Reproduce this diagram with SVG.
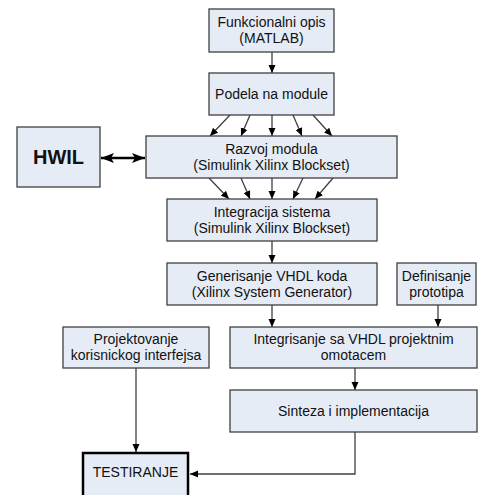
<svg xmlns="http://www.w3.org/2000/svg" width="478" height="495" viewBox="0 0 478 495">
<style>
.box{fill:#E6ECF6;stroke:#404040;stroke-width:1.3}
.t{font-family:"Liberation Sans",Arial,sans-serif;font-size:14px;fill:#111;text-anchor:middle}
.c{fill:none;stroke:#404040;stroke-width:1.3}
</style>
<defs>
<marker id="ah" markerUnits="userSpaceOnUse" markerWidth="9" markerHeight="8" refX="8" refY="4" orient="auto">
<path d="M0,0.5 L8,4 L0,7.5 z" fill="#000"/>
</marker>
<marker id="big" markerUnits="userSpaceOnUse" markerWidth="14" markerHeight="12" refX="13" refY="6" orient="auto">
<path d="M0,1 L13,6 L0,11 L3,6 z" fill="#000"/>
</marker>
<marker id="bigs" markerUnits="userSpaceOnUse" markerWidth="14" markerHeight="12" refX="1" refY="6" orient="auto">
<path d="M14,1 L1,6 L14,11 L11,6 z" fill="#000"/>
</marker>
</defs>
<rect width="478" height="495" fill="#fff"/>
<g id="connectors">
<line class="c" x1="272" y1="52" x2="272" y2="73" marker-end="url(#ah)"/>
<line class="c" x1="230" y1="115" x2="210" y2="136" marker-end="url(#ah)"/>
<line class="c" x1="250" y1="115" x2="241" y2="136" marker-end="url(#ah)"/>
<line class="c" x1="272" y1="115" x2="272" y2="136" marker-end="url(#ah)"/>
<line class="c" x1="293" y1="115" x2="302" y2="136" marker-end="url(#ah)"/>
<line class="c" x1="313" y1="115" x2="332" y2="136" marker-end="url(#ah)"/>
<line class="c" x1="209" y1="178" x2="229" y2="199" marker-end="url(#ah)"/>
<line class="c" x1="241" y1="178" x2="250" y2="199" marker-end="url(#ah)"/>
<line class="c" x1="272" y1="178" x2="272" y2="199" marker-end="url(#ah)"/>
<line class="c" x1="303" y1="178" x2="293" y2="199" marker-end="url(#ah)"/>
<line class="c" x1="333" y1="178" x2="315" y2="199" marker-end="url(#ah)"/>
<line x1="101" y1="158" x2="145" y2="158" stroke="#000" stroke-width="2.5" marker-start="url(#bigs)" marker-end="url(#big)"/>
<line class="c" x1="272" y1="241" x2="272" y2="263" marker-end="url(#ah)"/>
<line class="c" x1="272" y1="305" x2="272" y2="327" marker-end="url(#ah)"/>
<line class="c" x1="438" y1="305" x2="438" y2="327" marker-end="url(#ah)"/>
<line class="c" x1="355" y1="368" x2="355" y2="390" marker-end="url(#ah)"/>
<line class="c" x1="136" y1="368" x2="136" y2="452" marker-end="url(#ah)"/>
<polyline class="c" points="355,432 355,474 190,474" marker-end="url(#ah)"/>
</g>
<g id="funkcionalni">
<rect class="box" x="209" y="9" width="125" height="43"/>
<text class="t" x="271.5" y="27">Funkcionalni opis</text>
<text class="t" x="271.5" y="43">(MATLAB)</text>
</g>
<g id="podela">
<rect class="box" x="209" y="73" width="125" height="42"/>
<text class="t" x="271.5" y="99">Podela na module</text>
</g>
<g id="hwil">
<rect class="box" x="17" y="127" width="83" height="60"/>
<text class="t" x="58.5" y="164" style="font-size:20px;font-weight:bold">HWIL</text>
</g>
<g id="razvoj">
<rect class="box" x="146" y="136" width="251" height="42"/>
<text class="t" x="271.5" y="153.5">Razvoj modula</text>
<text class="t" x="271.5" y="169.5">(Simulink Xilinx Blockset)</text>
</g>
<g id="integracija">
<rect class="box" x="167" y="199" width="210" height="42"/>
<text class="t" x="272" y="216.5">Integracija sistema</text>
<text class="t" x="272" y="232.5">(Simulink Xilinx Blockset)</text>
</g>
<g id="generisanje">
<rect class="box" x="167" y="263" width="210" height="42"/>
<text class="t" x="272" y="280.5">Generisanje VHDL koda</text>
<text class="t" x="272" y="296.5">(Xilinx System Generator)</text>
</g>
<g id="definisanje">
<rect class="box" x="397" y="263" width="79" height="42"/>
<text class="t" x="436.5" y="280.5">Definisanje</text>
<text class="t" x="436.5" y="296.5">prototipa</text>
</g>
<g id="projektovanje">
<rect class="box" x="63" y="327" width="146" height="41"/>
<text class="t" x="136" y="344">Projektovanje</text>
<text class="t" x="136" y="360">korisnickog interfejsa</text>
</g>
<g id="integrisanje">
<rect class="box" x="230" y="327" width="247" height="41"/>
<text class="t" x="353.5" y="344">Integrisanje sa VHDL projektnim</text>
<text class="t" x="353.5" y="360">omotacem</text>
</g>
<g id="sinteza">
<rect class="box" x="230" y="390" width="247" height="42"/>
<text class="t" x="353.5" y="415.5">Sinteza i implementacija</text>
</g>
<g id="testiranje">
<rect x="83" y="453" width="105" height="46" fill="#E6ECF6" stroke="#000" stroke-width="2.5"/>
<text class="t" x="135.5" y="477">TESTIRANJE</text>
</g>
</svg>
